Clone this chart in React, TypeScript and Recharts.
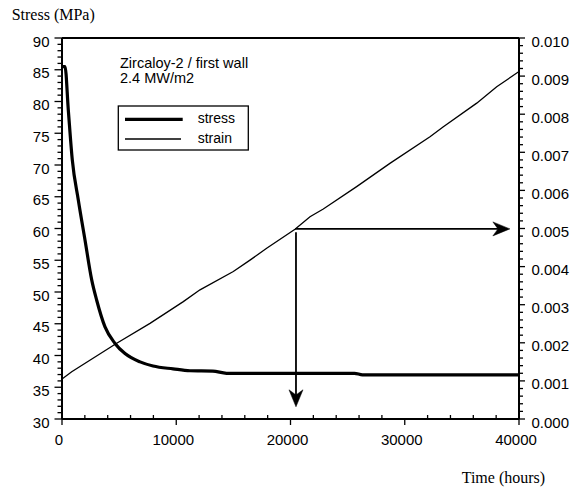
import React from 'react';
import { ComposedChart, Line, XAxis, YAxis, ReferenceLine } from 'recharts';

// ---- data ----
const stressTimes = [0, 263, 551, 901, 1427, 2013, 2600, 3037, 3764, 4640, 5514, 6830, 7970, 9720, 11200, 13200, 14400, 20000, 25600, 26300, 40000];
const stressValues = [85.5, 85.5, 78.7, 70.8, 64.5, 58.2, 51.9, 48.7, 44.5, 41.9, 40.3, 39.0, 38.35, 37.9, 37.6, 37.55, 37.2, 37.2, 37.2, 36.95, 36.95];

const strainTimes = [0, 850, 4790, 7702, 10618, 12079, 14994, 16455, 17914, 20394, 21707, 22870, 25790, 28700, 32210, 33380, 36300, 38050, 40000];
const strainValues = [0.00105, 0.00124, 0.00199, 0.00251, 0.00308, 0.00339, 0.00387, 0.00417, 0.00448, 0.00498, 0.00531, 0.00551, 0.0061, 0.00671, 0.00741, 0.00767, 0.00829, 0.00872, 0.00912];

const timeMajorTicks = [0, 10000, 20000, 30000, 40000];
const stressMajorTicks = [30, 35, 40, 45, 50, 55, 60, 65, 70, 75, 80, 85, 90];
const strainMajorTicks = [0, 0.001, 0.002, 0.003, 0.004, 0.005, 0.006, 0.007, 0.008, 0.009, 0.01];

const timeMinorStep = 2000;
const stressMinorStep = 1;
const strainMinorStep = 0.0002;

// arrows (time, strain)
const arrowH = [{ x: 20400, y: 0.00499 }, { x: 39200, y: 0.00499 }];
const arrowV = [{ x: 20480, y: 0.0049 }, { x: 20480, y: 0.00032 }];

const titleY = 'Stress (MPa)';
const titleX = 'Time (hours)';
const noteLines = ['Zircaloy-2 / first wall', '2.4 MW/m2'];
const seriesNames = ['stress', 'strain'];

// ---- derived ----
const stressData = stressTimes.map((t, i) => ({ t, stress: stressValues[i] }));
const strainData = strainTimes.map((t, i) => ({ t, strain: strainValues[i] }));

const makeSteps = (min: number, max: number, step: number) => {
  const out: number[] = [];
  const n = Math.round((max - min) / step);
  for (let i = 0; i <= n; i++) out.push(Math.round((min + i * step) * 1e6) / 1e6);
  return out;
};
const timeTicks = makeSteps(0, 40000, timeMinorStep);
const stressTicks = makeSteps(30, 90, stressMinorStep);
const strainTicks = makeSteps(0, 0.01, strainMinorStep);

const isIn = (arr: number[], v: number) => arr.some((a) => Math.abs(a - v) < 1e-7);

const SANS = '"Liberation Sans", Arial, sans-serif';
const SERIF = '"Liberation Serif", "Times New Roman", serif';

const LeftTick = (p: any) => {
  const { x, y, payload } = p;
  const major = isIn(stressMajorTicks, payload.value);
  return (
    <g>
      <line x1={x - (major ? 7.5 : 4.5)} x2={x} y1={y} y2={y} stroke="#000" strokeWidth={1.3} />
      {major && (
        <text x={x - 12.5} y={y + 8.5} textAnchor="end" fontFamily={SANS} fontSize={15} fill="#000">
          {payload.value}
        </text>
      )}
    </g>
  );
};

const RightTick = (p: any) => {
  const { x, y, payload } = p;
  const major = isIn(strainMajorTicks, payload.value);
  return (
    <g>
      <line x1={x} x2={x + (major ? 6 : 4)} y1={y} y2={y} stroke="#000" strokeWidth={1.3} />
      {major && (
        <text x={x + 12.5} y={y + 8.5} textAnchor="start" fontFamily={SANS} fontSize={15} fill="#000">
          {Number(payload.value).toFixed(3)}
        </text>
      )}
    </g>
  );
};

const BottomTick = (p: any) => {
  const { x, y, payload } = p;
  const major = isIn(timeMajorTicks, payload.value);
  return (
    <g>
      {major ? (
        <line x1={x} x2={x} y1={y} y2={y + 6} stroke="#000" strokeWidth={1.3} />
      ) : (
        <line x1={x} x2={x} y1={y - 4} y2={y} stroke="#000" strokeWidth={1.3} />
      )}
      {major && (
        <text x={x - 3} y={y + 26} textAnchor="middle" fontFamily={SANS} fontSize={15} fill="#000">
          {payload.value}
        </text>
      )}
    </g>
  );
};

const TopTick = (p: any) => {
  const { x, y } = p;
  return <line x1={x} x2={x} y1={y - 5} y2={y} stroke="#000" strokeWidth={1.3} />;
};

const ArrowShape = (p: any) => {
  const { x1, y1, x2, y2 } = p;
  const dx = x2 - x1;
  const dy = y2 - y1;
  const len = Math.sqrt(dx * dx + dy * dy) || 1;
  const ux = dx / len;
  const uy = dy / len;
  const L = 17;
  const W = 7;
  const bx = x2 - ux * L;
  const by = y2 - uy * L;
  const nx = x2 - ux * L * 0.7;
  const ny = y2 - uy * L * 0.7;
  const px = -uy;
  const py = ux;
  const d = `M${x2},${y2} L${bx + px * W},${by + py * W} L${nx},${ny} L${bx - px * W},${by - py * W} Z`;
  return (
    <g>
      <line x1={x1} y1={y1} x2={nx} y2={ny} stroke="#000" strokeWidth={1.8} />
      <path d={d} fill="#000" stroke="#000" strokeWidth={0.5} />
    </g>
  );
};

const W = 564;
const H = 480;

export default function App() {
  return (
    <div style={{ position: 'relative', width: W, height: H, background: '#fff' }}>
      <ComposedChart width={W} height={H} margin={{ top: 25, right: 0, bottom: 0, left: 0 }}>
        <XAxis
          xAxisId="bottom"
          dataKey="t"
          type="number"
          domain={[0, 40000]}
          ticks={timeTicks}
          interval={0}
          tickSize={0}
          tickMargin={0}
          tickLine={false}
          tick={(p: any) => <BottomTick {...p} />}
          axisLine={{ stroke: '#000', strokeWidth: 2 }}
          height={69}
          allowDataOverflow
        />
        <XAxis
          xAxisId="top"
          orientation="top"
          dataKey="t"
          type="number"
          domain={[0, 40000]}
          ticks={timeTicks}
          interval={0}
          tickSize={0}
          tickMargin={0}
          tickLine={false}
          tick={(p: any) => <TopTick {...p} />}
          axisLine={{ stroke: '#000', strokeWidth: 2 }}
          height={5}
        />
        <YAxis
          yAxisId="left"
          type="number"
          domain={[30, 90]}
          ticks={stressTicks}
          interval={0}
          tickSize={0}
          tickMargin={0}
          tickLine={false}
          tick={(p: any) => <LeftTick {...p} />}
          axisLine={{ stroke: '#000', strokeWidth: 2 }}
          width={54}
          allowDataOverflow
        />
        <YAxis
          yAxisId="right"
          orientation="right"
          type="number"
          domain={[0, 0.01]}
          ticks={strainTicks}
          interval={0}
          tickSize={0}
          tickMargin={0}
          tickLine={false}
          tick={(p: any) => <RightTick {...p} />}
          axisLine={{ stroke: '#000', strokeWidth: 2 }}
          width={53}
          allowDataOverflow
        />
        <Line
          xAxisId="bottom"
          yAxisId="right"
          data={strainData}
          dataKey="strain"
          type="linear"
          stroke="#000"
          strokeWidth={1.3}
          dot={false}
          activeDot={false}
          isAnimationActive={false}
          name={seriesNames[1]}
        />
        <Line
          xAxisId="bottom"
          yAxisId="left"
          data={stressData}
          dataKey="stress"
          type="monotone"
          stroke="#000"
          strokeWidth={3.2}
          dot={false}
          activeDot={false}
          isAnimationActive={false}
          name={seriesNames[0]}
        />
        <ReferenceLine
          xAxisId="bottom"
          yAxisId="right"
          segment={arrowH}
          ifOverflow="visible"
          shape={(p: any) => <ArrowShape {...p} />}
        />
        <ReferenceLine
          xAxisId="bottom"
          yAxisId="right"
          segment={arrowV}
          ifOverflow="visible"
          shape={(p: any) => <ArrowShape {...p} />}
        />
      </ComposedChart>
      <svg
        width={W}
        height={H}
        style={{ position: 'absolute', left: 0, top: 0, pointerEvents: 'none', overflow: 'visible' }}
      >
        <text x={3.7} y={11.5} fontFamily={SERIF} fontSize={16} fill="#000">
          {titleY}
        </text>
        <text x={453.7} y={475.3} fontFamily={SERIF} fontSize={16} fill="#000">
          {titleX}
        </text>
        <text x={112} y={60.3} fontFamily={SANS} fontSize={14.5} fill="#000">
          {noteLines[0]}
        </text>
        <text x={112} y={75.3} fontFamily={SANS} fontSize={14.5} fill="#000">
          {noteLines[1]}
        </text>
        <rect x={110.3} y={98} width={130} height={44} fill="#fff" stroke="#000" strokeWidth={1.3} />
        <line x1={117} x2={174.7} y1={111.3} y2={111.3} stroke="#000" strokeWidth={3.3} />
        <line x1={117} x2={173} y1={131} y2={131} stroke="#000" strokeWidth={1.3} />
        <text x={189.7} y={115.3} fontFamily={SANS} fontSize={14} fill="#000">
          {seriesNames[0]}
        </text>
        <text x={189.7} y={135.3} fontFamily={SANS} fontSize={14} fill="#000">
          {seriesNames[1]}
        </text>
      </svg>
    </div>
  );
}
